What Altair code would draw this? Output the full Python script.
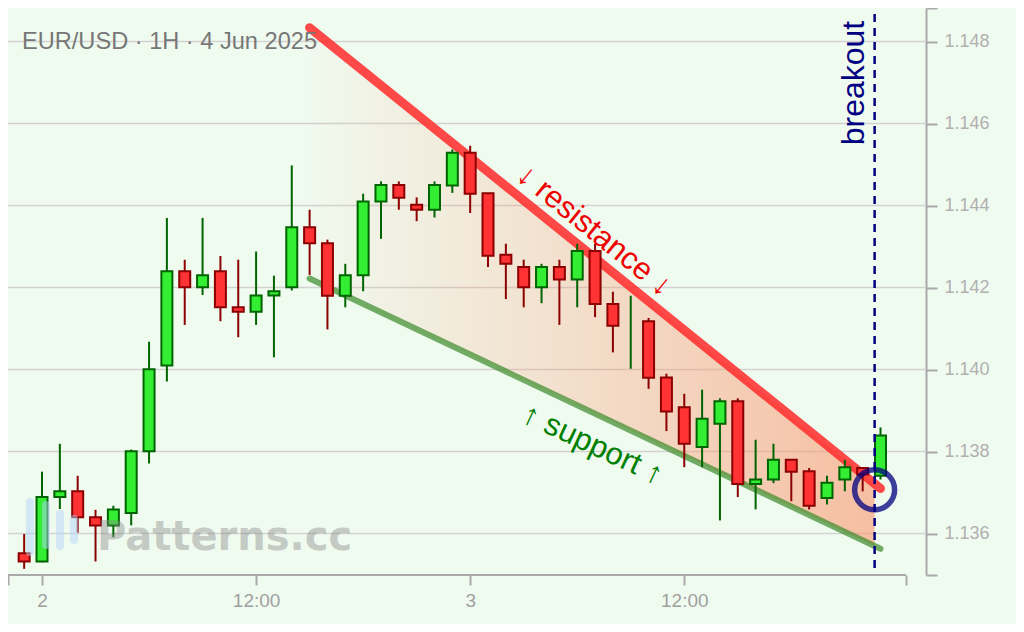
import altair as alt
import pandas as pd
import numpy as np

# ---------------- data (EUR/USD, 1H candles, hours relative to 2 Jun 00:00) ----------------
hours = list(range(-1, 48))
opens = [1.13552, 1.13532, 1.13689, 1.13703, 1.13640, 1.13620, 1.13650, 1.13801, 1.14010, 1.14240,
         1.14201, 1.14240, 1.14152, 1.14141, 1.14181, 1.14201, 1.14347, 1.14308, 1.14180, 1.14230,
         1.14410, 1.14450, 1.14402, 1.14390, 1.14449, 1.14529, 1.14430, 1.14280, 1.14250, 1.14201,
         1.14250, 1.14220, 1.14289, 1.14160, 1.14110, 1.14118, 1.13981, 1.13908, 1.13811, 1.13868,
         1.13923, 1.13721, 1.13732, 1.13780, 1.13752, 1.13687, 1.13732, 1.13760, 1.13741]
highs = [1.13599, 1.13751, 1.13819, 1.13741, 1.13658, 1.13668, 1.13805, 1.14068, 1.14370, 1.14268,
         1.14370, 1.14277, 1.14268, 1.14288, 1.14229, 1.14498, 1.14390, 1.14317, 1.14258, 1.14429,
         1.14459, 1.14459, 1.14420, 1.14459, 1.14537, 1.14546, 1.14430, 1.14307, 1.14268, 1.14258,
         1.14268, 1.14307, 1.14307, 1.14190, 1.14180, 1.14126, 1.13990, 1.13941, 1.13951, 1.13930,
         1.13930, 1.13829, 1.13819, 1.13780, 1.13760, 1.13741, 1.13780, 1.13760, 1.13859]
lows = [1.13514, 1.13530, 1.13660, 1.13602, 1.13532, 1.13591, 1.13620, 1.13771, 1.13971, 1.14109,
        1.14182, 1.14118, 1.14079, 1.14109, 1.14030, 1.14193, 1.14231, 1.14098, 1.14152, 1.14191,
        1.14319, 1.14390, 1.14362, 1.14371, 1.14431, 1.14382, 1.14250, 1.14172, 1.14152, 1.14162,
        1.14109, 1.14152, 1.14128, 1.14042, 1.14002, 1.13953, 1.13850, 1.13762, 1.13762, 1.13632,
        1.13689, 1.13659, 1.13723, 1.13679, 1.13659, 1.13671, 1.13703, 1.13703, 1.13732]
closes = [1.13532, 1.13689, 1.13703, 1.13640, 1.13620, 1.13659, 1.13801, 1.14001, 1.14240, 1.14201,
          1.14230, 1.14152, 1.14141, 1.14181, 1.14191, 1.14347, 1.14308, 1.14180, 1.14230, 1.14410,
          1.14450, 1.14419, 1.14390, 1.14450, 1.14529, 1.14429, 1.14278, 1.14258, 1.14201, 1.14250,
          1.14220, 1.14289, 1.14160, 1.14107, 1.14110, 1.13980, 1.13898, 1.13819, 1.13880, 1.13923,
          1.13721, 1.13732, 1.13780, 1.13751, 1.13668, 1.13724, 1.13762, 1.13744, 1.13839]

# trend lines (hour, price)
trend_hours = [15, 47]
resistance = [1.14834, 1.13710]
support = [1.14222, 1.13563]

breakout_hour = 46.67
breakout_price = 1.13707

y_ticks = [1.136, 1.138, 1.140, 1.142, 1.144, 1.146, 1.148]
x_tick_hours = [0, 12, 24, 36]
x_tick_labels = ["2", "12:00", "3", "12:00"]

# ---------------- layout ----------------
W, H = 918, 567
x_dom = [-1.906, 49.55]
x_axis_end = 48.43
y_dom = [1.13499, 1.14882]

df = pd.DataFrame(dict(hour=hours, open=opens, high=highs, low=lows, close=closes))
df["dir"] = np.where(df["close"] >= df["open"], "up", "down")

xs = alt.Scale(domain=x_dom, nice=False, zero=False, padding=0)
ys = alt.Scale(domain=y_dom, nice=False, zero=False, padding=0)

label_expr = " : ".join(
    [f"datum.value == {h} ? '{l}'" for h, l in zip(x_tick_hours, x_tick_labels)]
) + " : ''"

x_axis = alt.Axis(values=[x_dom[0]] + x_tick_hours + [x_axis_end], labelExpr=label_expr,
                  domain=False, grid=False, tickSize=10, tickColor="#a9a9a9", tickWidth=2,
                  labelColor="#a0a0a0", labelFontSize=19, labelFont="Liberation Sans",
                  labelPadding=6, title=None, labelFlush=False, labelOverlap=False)
y_axis = alt.Axis(orient="right", values=[y_dom[0]] + y_ticks + [y_dom[1]],
                  labelExpr="(datum.value < 1.1355 || datum.value > 1.1485) ? '' : format(datum.value, '.3f')",
                  domain=True, domainColor="#a9a9a9", domainWidth=2,
                  tickColor="#a9a9a9", tickWidth=2, tickSize=11,
                  labelColor="#b0b0b0", labelFontSize=18, labelFont="Liberation Sans",
                  labelPadding=7, grid=False, title=None, labelOverlap=False, labelFlush=False)


def X(f):
    return alt.X(f, type="quantitative", scale=xs, axis=x_axis)


def Y(f):
    return alt.Y(f, type="quantitative", scale=ys, axis=y_axis)


one = pd.DataFrame({"a": [0]})

grid = alt.Chart(pd.DataFrame({"v": y_ticks})).mark_rule(color="#d2d2d2", strokeWidth=1.5).encode(y=Y("v"))

xline = alt.Chart(pd.DataFrame({"a": [x_dom[0]], "b": [x_axis_end]})).mark_rule(
    color="#a9a9a9", strokeWidth=2).encode(x=X("a"), x2=alt.X2("b"), y=alt.value(H))

# fill between trend lines up to breakout
area_df = pd.DataFrame({
    "hour": [trend_hours[0], breakout_hour],
    "top": [resistance[0], float(np.interp(breakout_hour, trend_hours, resistance))],
    "bot": [support[0], float(np.interp(breakout_hour, trend_hours, support))],
})
fill = alt.Chart(area_df).mark_area(
    color=alt.Gradient(gradient="linear", x1=0, x2=1, y1=0, y2=0,
                       stops=[alt.GradientStop(color="rgba(250,150,110,0.02)", offset=0),
                              alt.GradientStop(color="rgba(250,150,110,0.33)", offset=0.55),
                              alt.GradientStop(color="rgba(250,150,110,0.6)", offset=1)])
).encode(x=X("hour"), y=Y("top"), y2=alt.Y2("bot"))

tl = pd.DataFrame({"hour": trend_hours, "res": resistance, "sup": support})
sup_line = alt.Chart(tl).mark_line(color="#3a8a2a", opacity=0.7, strokeWidth=6, strokeCap="round").encode(
    x=X("hour"), y=Y("sup"))
res_line = alt.Chart(tl).mark_line(color="#ff2a2a", opacity=0.85, strokeWidth=9, strokeCap="round").encode(
    x=X("hour"), y=Y("res"))

wick_col = alt.Color("dir:N", scale=alt.Scale(domain=["up", "down"], range=["#006400", "#8b0000"]), legend=None)
wicks = alt.Chart(df).mark_rule(strokeWidth=2).encode(
    x=X("hour"), y=Y("low"), y2=alt.Y2("high"), color=wick_col)
bodies = alt.Chart(df).transform_filter("datum.open != datum.close").mark_bar(
    size=11, strokeWidth=2, orient="vertical").encode(
    x=X("hour"), y=Y("open"), y2=alt.Y2("close"),
    fill=alt.Fill("dir:N", scale=alt.Scale(domain=["up", "down"], range=["#33ee33", "#ff3333"]), legend=None),
    stroke=alt.Stroke("dir:N", scale=alt.Scale(domain=["up", "down"], range=["#006400", "#8b0000"]), legend=None),
)

bo = pd.DataFrame({"hour": [breakout_hour], "price": [breakout_price]})
circle = alt.Chart(bo).mark_point(shape="circle", size=1600, filled=False, strokeWidth=5.5,
                                  color="#000080", opacity=0.75).encode(x=X("hour"), y=Y("price"))
dashed = alt.Chart(bo).mark_rule(color="#000080", strokeWidth=2.5, strokeDash=[8, 6]).encode(
    x=X("hour"), y=alt.value(-8), y2=alt.value(562))


def label(text, x, y, **kw):
    return alt.Chart(one).mark_text(text=text, **kw).encode(x=alt.value(x), y=alt.value(y))


res_txt = label("↓ resistance ↓", 586, 223, angle=39, fontSize=31, color="#ee0000",
                align="center", baseline="middle", font="Liberation Sans")
sup_txt = label("↑ support ↑", 584.5, 437, angle=25, fontSize=31, color="#008000",
                align="center", baseline="middle", font="Liberation Sans")
bo_txt = label("breakout", 846, 75, angle=270, fontSize=32, color="#000080",
               align="center", baseline="middle", font="Liberation Sans")
title = label("EUR/USD · 1H · 4 Jun 2025", 14, 41, fontSize=23.6, color="#777777",
              align="left", baseline="alphabetic", font="Liberation Sans")
wm_text = label("Patterns.cc", 89, 542, fontSize=40, fontWeight="bold", color="#888888", opacity=0.42,
                align="left", baseline="alphabetic", font="DejaVu Sans")


def logo_bar(x, y1, y2):
    return alt.Chart(one).mark_rule(color="#b4d6fa", strokeWidth=8, opacity=0.5, strokeCap="round").encode(
        x=alt.value(x), y=alt.value(y1), y2=alt.value(y2))


logo = [logo_bar(22, 494, 544), logo_bar(38, 497, 537), logo_bar(52, 506, 538), logo_bar(66, 511, 532)]

chart = alt.layer(
    grid, fill, sup_line, res_line, wicks, bodies, *logo, wm_text,
    res_txt, sup_txt, bo_txt, circle, dashed, title, xline
).properties(
    width=W, height=H,
    autosize=alt.AutoSizeParams(type="none"),
    padding={"left": 0, "top": 0, "right": 90, "bottom": 49},
    background="#f0fbf0",
).configure_view(stroke=None)

chart.save("out.html", embed_options={"renderer": "svg", "actions": False})
